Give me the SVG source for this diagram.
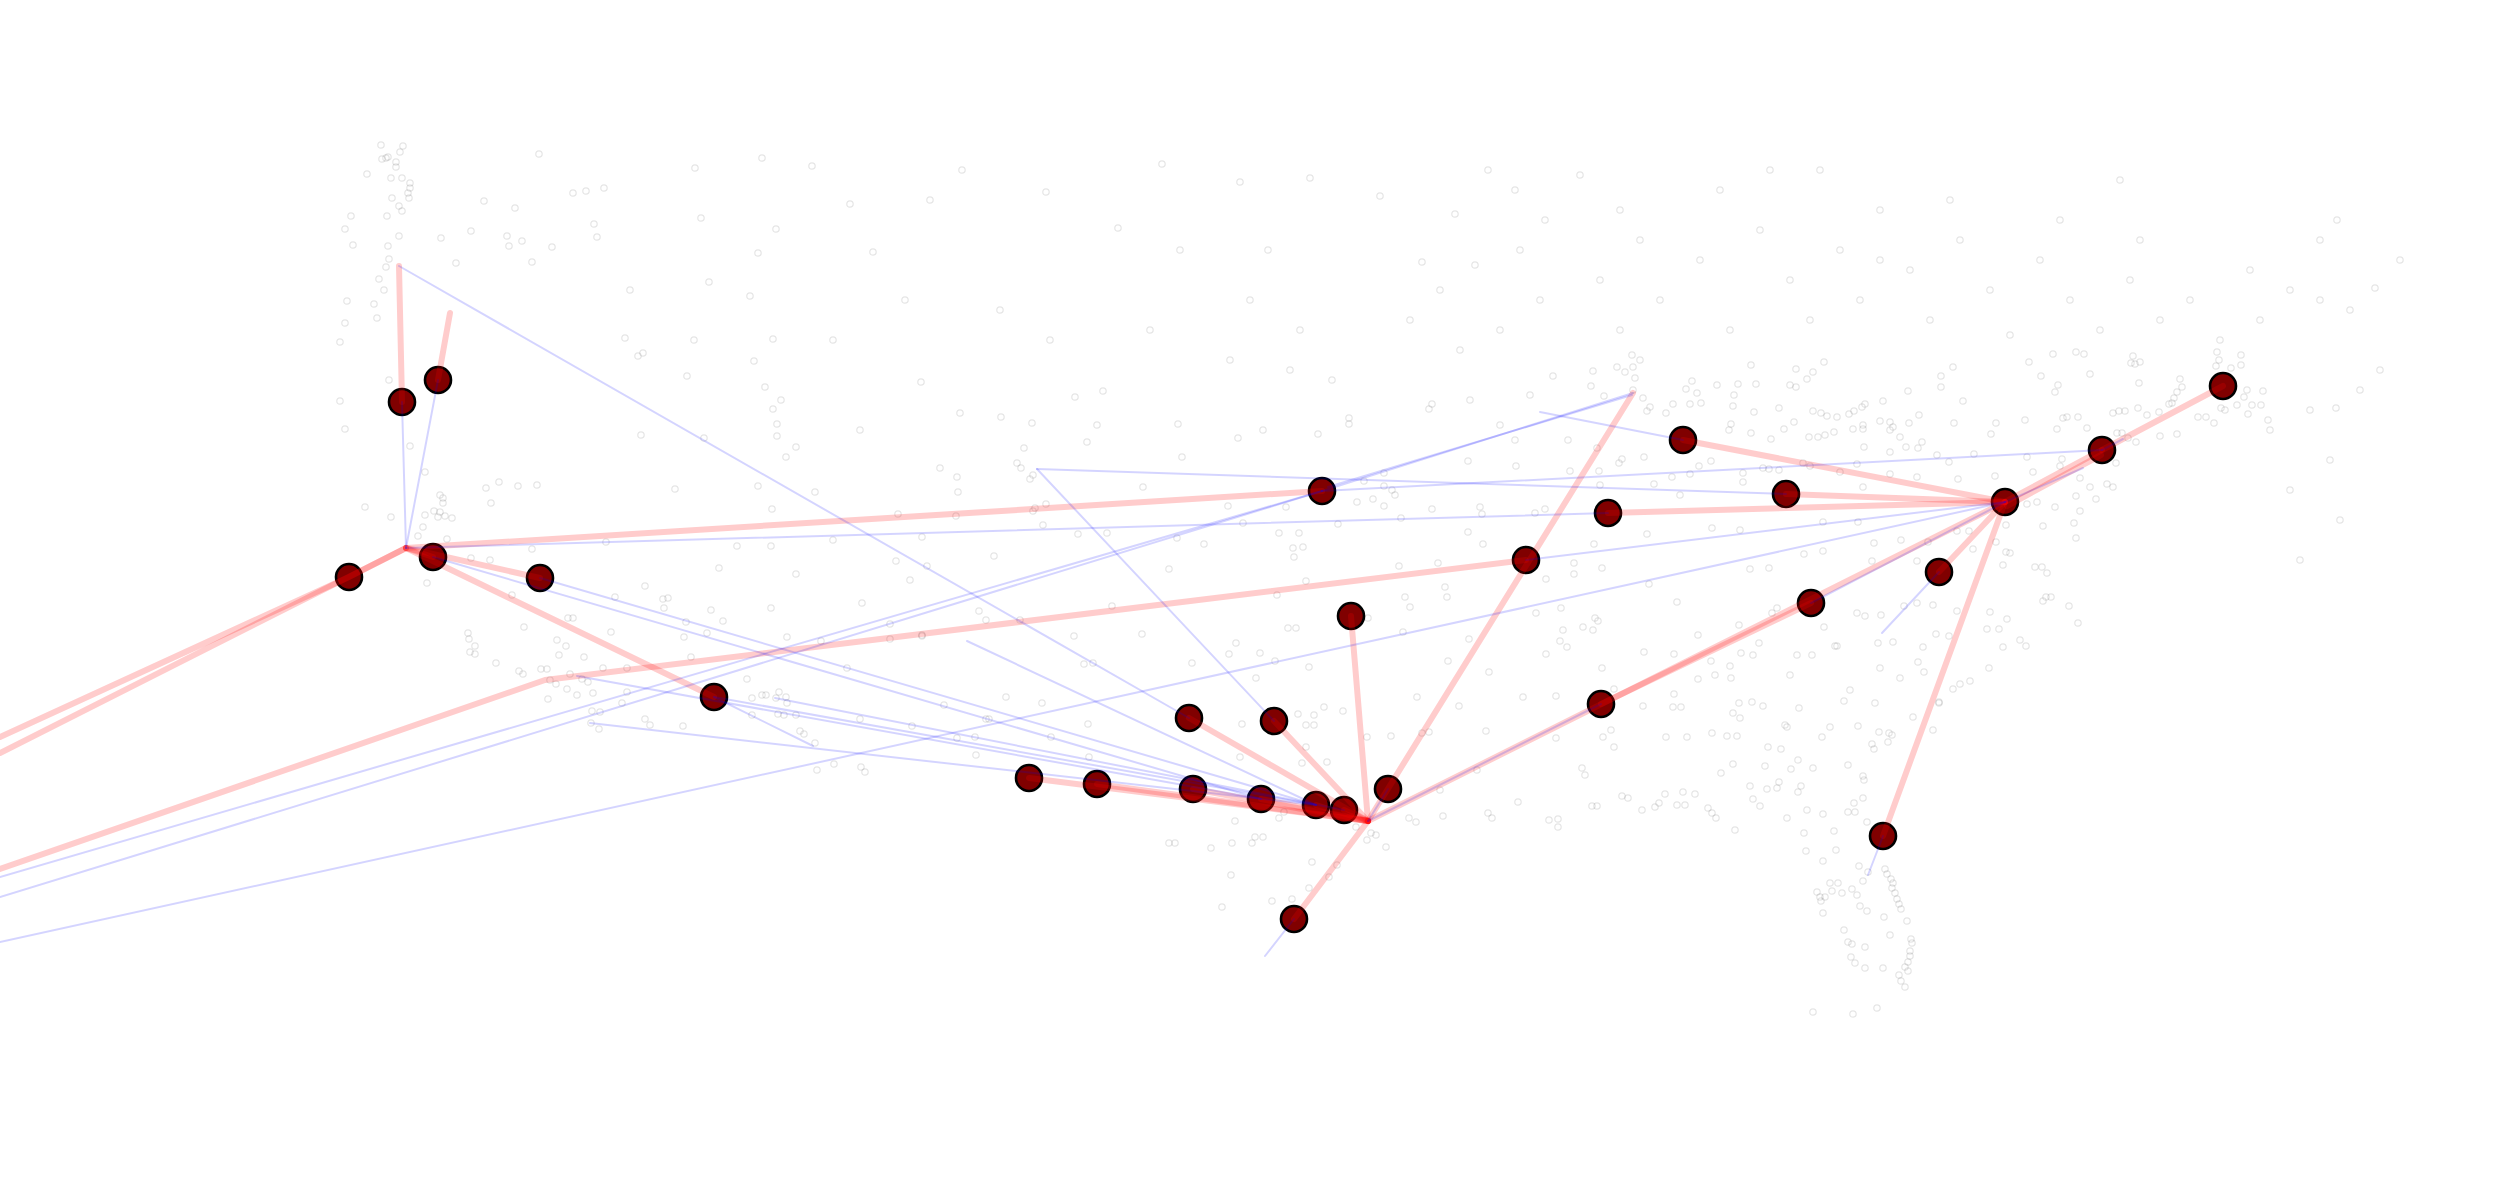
<svg xmlns="http://www.w3.org/2000/svg" width="2516" height="1192" viewBox="0 0 2516 1192">
<defs>
<marker id="dot" markerWidth="10" markerHeight="10" refX="5" refY="5" markerUnits="userSpaceOnUse" overflow="visible"><circle cx="5" cy="5" r="3.2" fill="none" stroke="#000" stroke-opacity="0.1" stroke-width="1.2"/></marker>
</defs>
<style>
.dots{fill:none;stroke:none;marker-start:url(#dot);marker-mid:url(#dot);marker-end:url(#dot)}
.node circle{fill:#800000;stroke:#000;stroke-width:2.6}
.r{fill:none;stroke:#ff0000;stroke-opacity:0.2;stroke-width:6;stroke-linecap:round;stroke-linejoin:round}
.b{fill:none;stroke:#0000ff;stroke-opacity:0.17;stroke-width:2;stroke-linecap:round}
</style>
<rect width="2516" height="1192" fill="#fff"/>
<g id="background-points">
<path class="dots" d="M381 145 403 146 400 152 386 158 382 159 388 157 396 162 396 167 367 174 391 178 402 178 410 183 410 188 408 193 409 198 392 198 399 206 402 211 351 216 387 216 345 229 399 236 353 245 388 246 389 259 386 267 379 279 384 290 347 301 374 304 377 318 345 323 340 342 389 380 340 401 345 429 410 446 425 472 539 154 484 201 515 208 471 231 441 238 507 236 509 246 522 241 552 247 532 262 456 263 573 193 586 191 604 188 594 224 597 237 630 290 625 338 638 356 643 353 687 376 641 435 675 489 695 168 701 218 709 282 750 296 762 158 776 229 758 253 694 340 773 339 754 361 765 387 773 409 781 400 777 424 777 436 786 457 796 447 758 486 772 509 704 438 440 495 443 498 443 503 434 511 440 512 438 517 445 516 452 518 425 515 423 527 391 517 365 507 486 488 491 503 499 482 518 486 537 485 447 539 418 536 471 558 490 560 427 583"/>
<path class="dots" d="M532 549 606 542 737 546 771 546 833 540 922 537 719 568 796 574 896 561 910 580 927 566 645 586 663 599 668 598 664 608 615 597 512 595 524 627 568 618 573 618 557 640 566 646 559 655 584 657 611 632 684 637 686 622 711 610 723 621 707 633 771 608 787 637 821 641 862 603 890 624 922 635 890 639 519 671 523 674 541 669 547 669 550 680 556 684 567 689 570 674 582 679 588 682 593 693 577 695 548 699 603 668 627 668 627 692 622 703 592 711 600 712 591 723 599 729 645 719 650 725 683 726 691 657 747 679 752 698 762 695 766 695 779 692 786 697 776 698 787 703 778 714 784 715 796 715 752 715 800 731 804 734 815 743 847 668 860 719 834 764 817 770 861 767 865 772 912 726 944 705 468 633 469 639 475 646 470 652 475 654 496 663"/>
<path class="dots" d="M960 413 1001 417 1032 423 1075 397 1103 391 1097 425 1087 442 1178 424 1024 448 1017 463 1021 468 1030 479 1033 475 957 477 958 492 1046 504 1035 508 1033 511 956 516 1143 487 1182 457 1238 438 1263 430 1318 434 1349 418 1349 424 1332 380 1429 409 1432 404 1043 525 1078 534 1107 533 1177 538 1204 544 1243 523 1228 506 994 556 1169 569 979 611 986 620 1020 620 1112 606 1074 636 1142 634 1236 643 1229 654 1192 663 1084 664 1093 663 1006 697 1042 703 1088 724 1242 724 986 719 989 719 976 755 922 636 957 738 975 737 1051 737 1089 757 1240 757 1169 843 1175 843 1211 848 1232 843 1231 875 1222 907 1235 821"/>
<path class="dots" d="M1468 461 1516 466 1619 463 1622 459 1644 457 1699 466 1711 461 1743 473 1743 482 1690 474 1672 477 1654 484 1599 471 1570 471 1384 473 1364 481 1384 486 1392 490 1395 495 1357 502 1373 499 1286 507 1384 506 1432 509 1480 507 1482 514 1535 513 1545 509 1600 485 1680 495 1712 528 1740 530 1647 534 1338 524 1401 518 1279 533 1299 533 1293 548 1303 547 1294 557 1468 532 1483 544 1574 563 1574 574 1594 544 1602 568 1546 579 1399 566 1438 563 1445 587 1447 597 1405 597 1410 607 1306 581 1277 595 1649 584 1677 602 1536 613 1561 608 1598 621 1739 625 1698 635 1583 627 1593 630 1595 618 1563 630 1567 647 1560 641 1546 654 1469 639 1403 632 1368 618 1448 661 1489 672 1602 668 1644 652 1674 654 1711 661 1730 666 1731 678 1715 675 1698 679 1741 653 1288 628 1296 628 1260 653 1275 661 1309 667 1256 678 1417 697 1459 706 1523 697 1556 696 1643 706 1674 694 1673 707 1681 707 1614 689 1733 713 1739 703 1740 718 1712 733 1737 736 1727 736 1687 737 1666 737 1611 730 1603 737 1614 747 1556 738 1486 731 1391 736 1324 707 1343 711 1298 714 1314 715 1306 725 1314 725 1306 747 1327 762 1302 763 1367 737 1422 733 1429 732 1477 770 1582 768 1585 775 1622 796 1628 798 1665 794 1683 792 1695 794 1733 764 1721 773 1659 803 1655 807 1642 810 1677 805 1685 805 1708 808 1712 813 1716 818 1735 830 1592 806 1597 806 1558 819 1549 820 1558 827 1518 802 1488 813 1492 818 1443 816 1409 818 1416 822 1440 790 1386 847 1376 835 1371 833 1367 840 1356 827 1337 865 1312 862 1329 877 1309 888 1292 899 1272 901 1263 837 1255 837 1252 843 1279 818 1284 812"/>
<path class="dots" d="M1553 376 1593 371 1617 367 1633 367 1635 378 1591 386 1604 396 1633 390 1643 398 1650 407 1647 411 1666 413 1673 404 1690 404 1701 403 1697 393 1686 389 1692 381 1717 385 1738 384 1756 384 1751 365 1796 369 1807 379 1813 372 1790 385 1796 387 1824 362 1779 408 1733 406 1734 395 1754 412 1731 424 1729 430 1751 433 1771 439 1784 429 1794 422 1813 411 1821 413 1827 416 1837 417 1849 414 1854 411 1862 407 1865 404 1883 401 1908 391 1941 376 1941 387 1953 367 1963 401 1919 415 1909 423 1890 422 1880 421 1893 427 1890 430 1863 425 1863 429 1853 429 1834 432 1825 435 1818 437 1809 437 1900 437 1864 447 1890 452 1906 447 1918 448 1922 442 1937 455 1954 423 1974 454 1991 434 1996 423 2025 420 2041 376 2029 362 2027 457 1949 462 1958 479 1917 477 1890 474 1863 487 1857 464 1840 472 1810 466 1803 463 1763 468 1769 469 1779 470 1568 440 1597 448 1823 522 1858 522 1901 540 1874 543 1872 561 1917 561 1928 542 1957 531 1969 531 1973 549 1995 476 1996 542 2006 525 2027 504 2037 502 2043 526 2033 472 2006 552 2010 553 2003 565 2035 567 2042 567 2047 573 2046 597 1990 612 2007 619 1957 611 1949 636 1936 634 1904 606 1917 603 1933 605 1881 615 1865 616 1857 613 1835 646 1824 627 1893 642 1878 643 1923 647 2020 640 2026 646 1987 629 1999 629 2043 601 2003 647 1769 568 1750 569 1823 551 1804 554 1777 608 1772 613 1759 643 1753 655 1797 655 1812 655 1837 646 1790 675 1850 690 1880 668"/>
<path class="dots" d="M2053 354 2076 352 2084 354 2133 356 2140 362 2131 363 2135 364 2217 352 2241 355 2219 360 2216 366 2231 368 2241 365 2244 397 2247 390 2263 391 2237 405 2252 405 2261 405 2221 408 2225 410 2248 414 2268 420 2206 417 2214 423 2198 417 2180 379 2182 387 2177 392 2174 398 2172 403 2169 404 2177 434 2160 436 2159 412 2147 415 2138 408 2139 383 2090 374 2055 392 2058 385 2063 418 2067 417 2078 417 2057 429 2087 428 2113 413 2119 411 2125 411 2117 433 2122 433 2128 438 2136 442 2062 459 2060 466 2116 463 2080 478 2090 487 2107 484 2113 487 2076 496 2096 499 2055 507 2080 511 2074 523 2076 538 2051 597 2069 606 2078 623 1918 662 1924 672 1900 678 1989 668 1970 681 1960 684 1953 689 1939 702 1913 717 1933 730"/>
<path class="dots" d="M1752 702 1763 706 1799 708 1844 701 1875 703 1939 703 1785 725 1787 727 1830 727 1822 737 1858 726 1879 732 1889 733 1892 735 1888 742 1872 744 1874 749 1768 747 1781 749 1765 766 1798 760 1791 769 1813 768 1848 765 1750 786 1767 789 1777 788 1779 782 1801 786 1798 792 1863 776 1864 780 1863 798 1854 803 1753 799 1760 806 1787 818 1807 810 1823 814 1848 812 1855 812 1804 833 1834 831 1867 822 1836 850 1806 851 1823 861 1859 866 1868 872 1863 881 1885 869 1887 874 1891 879 1893 883 1892 888 1895 893 1897 899 1899 904 1901 909 1830 883 1838 883 1832 891 1817 892 1820 897 1825 897 1821 901 1842 893 1852 889 1857 895 1823 913 1860 906 1867 911 1884 917 1907 921 1844 930 1848 942 1852 944 1890 935 1865 947 1851 957 1855 963 1865 968 1883 968 1911 939 1912 943 1910 951 1910 956 1908 962 1905 967 1908 971 1899 975 1901 981 1905 987 1813 1012 1853 1014 1877 1008"/>
<path class="dots" d="M812 166 850 204 873 252 905 300 833 340 921 382 860 430 940 468 815 492 898 514 930 200 962 170 1046 192 1118 228 1162 164 1240 182 1268 250 1310 178 1380 196 1422 262 1455 214 1488 170 1520 250 1540 300 1500 330 1460 350 1410 320 1300 330 1250 300 1150 330 1050 340 1000 310 1290 370 1440 290 1180 250 1475 265 1515 190 1545 220 1230 360 1580 175 1620 210 1640 240 1660 300 1700 260 1720 190 1760 230 1790 280 1810 320 1840 250 1860 300 1880 210 1910 270 1930 320 1960 240 1990 290 2010 335 2040 260 2070 300 2100 330 2130 280 2160 320 2190 300 2220 340 2260 320 2290 290 2320 300 2350 310 2250 270 2140 240 2060 220 1880 260 1730 330 1620 330 1600 280 1770 170 1950 200 2320 240 2337 220 2360 390 2380 370 2310 410 2270 430 2330 460 2290 490 2340 520 2300 560 2375 288 2400 260 2336 408 2120 180 1820 170 1640 360 1625 372 1632 355 1470 400 1500 425 1530 395 1515 440"/>
</g>
<g id="nodes">
<g id="n1" class="node"><circle cx="402" cy="402" r="13"/></g>
<g id="n2" class="node"><circle cx="438" cy="380" r="13"/></g>
<g id="n3" class="node"><circle cx="349" cy="577" r="13"/></g>
<g id="n4" class="node"><circle cx="433" cy="557" r="13"/></g>
<g id="n5" class="node"><circle cx="540" cy="578" r="13"/></g>
<g id="n6" class="node"><circle cx="714" cy="697" r="13"/></g>
<g id="n7" class="node"><circle cx="1322" cy="491" r="13"/></g>
<g id="n8" class="node"><circle cx="1608" cy="513" r="13"/></g>
<g id="n9" class="node"><circle cx="1526" cy="560" r="13"/></g>
<g id="n10" class="node"><circle cx="1351" cy="616" r="13"/></g>
<g id="n11" class="node"><circle cx="1189" cy="718" r="13"/></g>
<g id="n12" class="node"><circle cx="1274" cy="721" r="13"/></g>
<g id="n13" class="node"><circle cx="1029" cy="778" r="13"/></g>
<g id="n14" class="node"><circle cx="1097" cy="784" r="13"/></g>
<g id="n15" class="node"><circle cx="1193" cy="789" r="13"/></g>
<g id="n16" class="node"><circle cx="1261" cy="799" r="13"/></g>
<g id="n17" class="node"><circle cx="1316" cy="805" r="13"/></g>
<g id="n18" class="node"><circle cx="1344" cy="810" r="13"/></g>
<g id="n19" class="node"><circle cx="1388" cy="789" r="13"/></g>
<g id="n20" class="node"><circle cx="1294" cy="919" r="13"/></g>
<g id="n21" class="node"><circle cx="1601" cy="704" r="13"/></g>
<g id="n22" class="node"><circle cx="1811" cy="603" r="13"/></g>
<g id="n23" class="node"><circle cx="1683" cy="440" r="13"/></g>
<g id="n24" class="node"><circle cx="1786" cy="494" r="13"/></g>
<g id="n25" class="node"><circle cx="2005" cy="502" r="13"/></g>
<g id="n26" class="node"><circle cx="1939" cy="572" r="13"/></g>
<g id="n27" class="node"><circle cx="2102" cy="450" r="13"/></g>
<g id="n28" class="node"><circle cx="2223" cy="386" r="13"/></g>
<g id="n29" class="node"><circle cx="1883" cy="836" r="13"/></g>
</g>
<g id="connectors">
<path class="r" d="M402 402L399 266"/>
<path class="r" d="M438 380L450 313"/>
<path class="r" d="M406 548L349 577L0 737"/>
<path class="r" d="M406 548L0 753"/>
<path class="r" d="M406 548L433 557"/>
<path class="r" d="M406 548L1322 491"/>
<path class="r" d="M406 548L540 578"/>
<path class="r" d="M406 548L714 697"/>
<path class="r" d="M0 869L545 680L1526 560"/>
<path class="r" d="M1633 393L1368 821"/>
<path class="r" d="M1608 513L2005 502"/>
<path class="r" d="M1683 440L2005 502"/>
<path class="r" d="M1786 494L2005 502"/>
<path class="r" d="M1368 821L2005 502"/>
<path class="r" d="M1601 704L1811 603"/>
<path class="r" d="M1939 572L2005 502"/>
<path class="r" d="M2005 502L1883 836"/>
<path class="r" d="M2005 502L2102 450"/>
<path class="r" d="M2007 506L2101 455"/>
<path class="r" d="M2102 450L2223 386"/>
<path class="r" d="M1368 821L1294 919"/>
<path class="r" d="M1368 821L1351 616"/>
<path class="r" d="M1368 821L1189 718"/>
<path class="r" d="M1368 821L1274 721"/>
<path class="r" d="M1368 821L1029 778"/>
<path class="r" d="M1368 821L1097 784"/>
<path class="r" d="M1368 821L1193 789"/>
<path class="r" d="M1368 821L1261 799"/>
<path class="r" d="M1368 821L1316 805"/>
<path class="r" d="M1368 821L1344 810"/>
<path class="b" d="M402 402L406 548"/>
<path class="b" d="M438 380L406 548"/>
<path class="b" d="M399 266L1189 718"/>
<path class="b" d="M406 548L1608 513"/>
<path class="b" d="M0 877L1322 491"/>
<path class="b" d="M0 897L1322 491"/>
<path class="b" d="M1322 491L1633 393"/>
<path class="b" d="M1328 487L1632 395"/>
<path class="b" d="M1037 469L1274 721"/>
<path class="b" d="M1037 469L1786 494"/>
<path class="b" d="M1322 491L2102 450"/>
<path class="b" d="M1526 560L2005 502"/>
<path class="b" d="M0 942L2005 502"/>
<path class="b" d="M1540 412L1683 440"/>
<path class="b" d="M433 557L1261 799"/>
<path class="b" d="M540 578L1316 805"/>
<path class="b" d="M577 676L1261 799"/>
<path class="b" d="M714 697L1316 805"/>
<path class="b" d="M714 697L813 746"/>
<path class="b" d="M590 723L1316 805"/>
<path class="b" d="M775 698L1344 810"/>
<path class="b" d="M967 641L1316 805"/>
<path class="b" d="M1368 821L1601 704"/>
<path class="b" d="M1811 603L2005 502"/>
<path class="b" d="M1939 572L1882 633"/>
<path class="b" d="M1883 836L1868 875"/>
<path class="b" d="M1294 919L1265 956"/>
<path class="b" d="M2005 502L2083 468"/>
<path class="b" d="M2102 450L2123 439"/>
<path class="b" d="M1368 821L1388 789"/>
</g>
</svg>
